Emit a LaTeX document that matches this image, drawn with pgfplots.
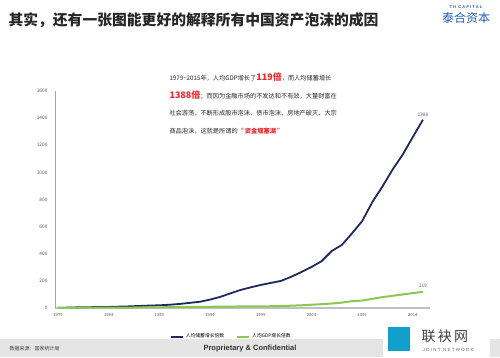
\documentclass[border=0pt]{standalone}
\usepackage{pgfplots}
\pgfplotsset{compat=1.18}
\usepackage{fontspec}
\setmainfont{Noto Sans CJK SC}
\newfontfamily\lib{Liberation Sans}
\definecolor{navy}{HTML}{1C2A5E}
\definecolor{lgreen}{HTML}{8CC850}
\definecolor{redt}{HTML}{E8262B}
\definecolor{logob}{HTML}{1F5FA8}
\definecolor{tickg}{HTML}{595959}
\begin{document}
\begin{tikzpicture}[x=1pt,y=1pt]
\path[fill=white] (0,0) rectangle (500,357);
% title
\node[anchor=west,font=\fontsize{14.8}{15}\selectfont\bfseries,text=black!85] at (5,337) {其实，还有一张图能更好的解释所有中国资产泡沫的成因};
\node[anchor=center,font=\lib\bfseries\fontsize{4}{4}\selectfont,text=logob] at (466,350) {T H\ \ C A P I T A L};
\node[anchor=center,font=\fontsize{12}{12}\selectfont,text=logob] at (466,339) {泰合资本};
% footer
\fill[black!10] (0,0) rectangle (500,18);
\node[anchor=west,font=\fontsize{5}{5}\selectfont\itshape,text=black!75] at (6,8) {数据来源：国家统计局};
\node[anchor=center,font=\lib\bfseries\fontsize{7.5}{7.5}\selectfont,text=black!80] at (250,8) {Proprietary \& Confidential};
% watermark
\fill[white] (383,0) rectangle (490,31);
\node[anchor=west,font=\fontsize{14}{14}\selectfont,text=black!75] at (418,21) {联\,袂\,网};
\node[anchor=west,font=\lib\fontsize{4.5}{4.5}\selectfont,text=black!60] at (419,7) {J O I N T\ \ N E T W O R K};
\fill[logob!60!cyan] (388,6) rectangle (410,30);
% annotation
\begin{scope}[every node/.style={anchor=west,font=\fontsize{6.2}{7}\selectfont,text=black!85}]
\node at (166,280) {1979\textasciitilde2015年，人均GDP增长了{\color{redt}\bfseries\fontsize{9}{9}\selectfont 119倍}，而人均储蓄增长};
\node at (166,262) {{\color{redt}\bfseries\fontsize{9}{9}\selectfont 1388倍}；而因为金融市场的不发达和不有效，大量财富在};
\node at (166,244) {社会游荡，不断形成股市泡沫、债市泡沫、房地产破灭、大宗};
\node at (166,226) {商品泡沫，这就是所谓的{\color{redt}\bfseries “\,资金堰塞湖\,”}};
\end{scope}
\begin{axis}[
  at={(55pt,49pt)}, anchor=south west,
  scale only axis, width=375pt, height=217pt,
  xmin=1978.7, xmax=2015.7, ymin=0, ymax=1600,
  axis x line*=bottom, axis y line*=left,
  x axis line style={draw=black!25,line width=1.6pt,-},
  y axis line style={draw=black!35,line width=0.5pt,-},
  xtick={1979,1984,1989,1994,1999,2004,2009,2014},
  ytick={0,200,400,600,800,1000,1200,1400,1600},
  /pgf/number format/1000 sep={},
  /pgf/number format/assume math mode=true,
  xticklabel style={font=\fontsize{4.2}{4.2}\selectfont,text=tickg},
  yticklabel style={font=\fontsize{4.8}{4.8}\selectfont,text=tickg},
  major tick length=0pt,
  xticklabel shift=2pt,
  yticklabel shift=4pt,
  legend style={at={(0.47,-0.10)},anchor=north,draw=none,fill=none,
    font=\fontsize{4.8}{4.8}\selectfont,legend columns=2,
    /tikz/every even column/.append style={column sep=10pt}},
  legend image code/.code={\draw[#1,line width=2pt] (0pt,0pt) -- (12pt,0pt);},
  clip=false,
]
\addplot[navy,line width=1.8pt,line join=round] coordinates {
(1979,1) (1980,3) (1981,5) (1982,6) (1983,7) (1984,8) (1985,10) (1986,12)
(1987,15) (1988,18) (1989,20) (1990,24) (1991,30) (1992,38) (1993,46)
(1994,62) (1995,82) (1996,108) (1997,133) (1998,152) (1999,170) (2000,185)
(2001,200) (2002,230) (2003,265) (2004,302) (2005,345) (2006,420) (2007,465)
(2008,550) (2009,640) (2010,780) (2011,895) (2012,1020) (2013,1130)
(2014,1260) (2015,1388)};
\addlegendentry{人均储蓄增长倍数}
\addplot[lgreen,line width=2pt,line join=round] coordinates {
(1979,1) (1981,2) (1983,2.5) (1985,3) (1987,4) (1990,6) (1993,8) (1995,10)
(1998,12) (2000,13) (2001,15) (2002,17) (2003,20) (2004,24) (2005,28) (2006,33) (2007,40)
(2008,50) (2009,55) (2010,68) (2011,80) (2012,90) (2013,100) (2014,110) (2015,119)};
\addlegendentry{人均GDP增长倍数}
\node[above,font=\fontsize{4.8}{4.8}\selectfont,text=tickg] at (axis cs:2015,1388) {1388};
\node[above,font=\fontsize{4.8}{4.8}\selectfont,text=tickg] at (axis cs:2015,125) {119};
\end{axis}
\end{tikzpicture}
\end{document}
